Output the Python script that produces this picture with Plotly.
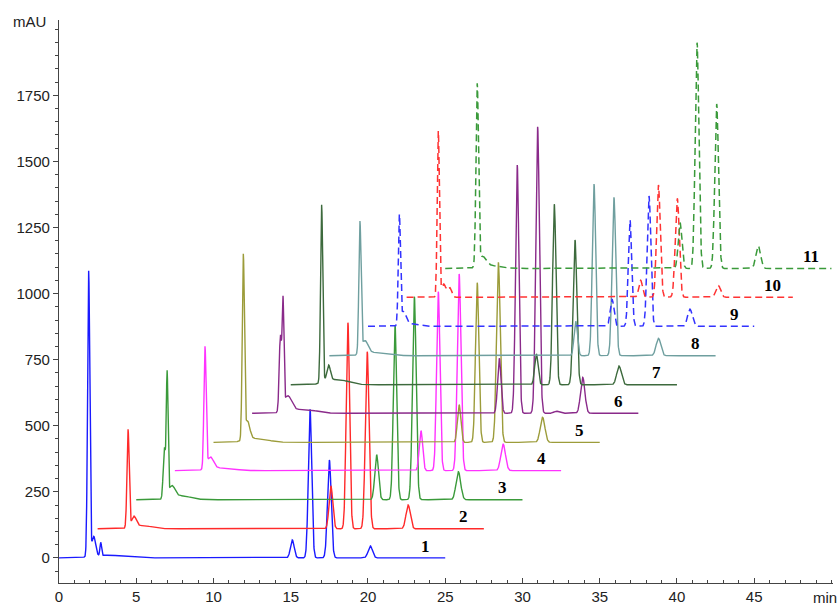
import numpy as np
import plotly.graph_objects as go

# ---------------- data ----------------
trace_names = ["1", "2", "3", "4", "5", "6", "7", "8", "9", "10", "11"]
trace_start = [0, 2.5, 5, 7.5, 10, 12.5, 15, 17.5, 20, 22.5, 25]   # min
trace_end = [25, 27.5, 30, 32.5, 35, 37.5, 40, 42.5, 45, 47.5, 50]  # min
baseline = [0, 110, 220, 330, 437, 547, 655, 765, 876, 986, 1095]   # mAU

# peak tables per trace: retention time (min), height above baseline (mAU), width sigma (min)
peak_rt = [
    [1.92, 2.25, 2.7, 3.2, 15.1, 16.25, 17.5, 20.15],
    [4.47, 4.85, 5.4, 17.6, 18.7, 19.95, 22.6],
    [6.82, 7.0, 7.3, 7.9, 20.56, 21.75, 23.0, 25.85],
    [9.45, 9.8, 10.5, 23.43, 24.55, 25.9, 28.75],
    [11.93, 12.2, 12.8, 25.9, 27.07, 28.44, 31.3],
    [14.33, 14.5, 14.8, 15.8, 28.5, 29.66, 30.98, 32.2, 33.9],
    [17.0, 17.45, 18.0, 30.9, 32.06, 33.4, 36.25],
    [19.48, 19.8, 20.5, 33.45, 34.63, 35.92, 38.8],
    [22.03, 22.3, 22.8, 35.8, 36.96, 38.19, 40.84],
    [24.55, 24.9, 25.3, 37.65, 38.8, 40.02, 42.67],
    [27.07, 27.4, 28.0, 40.2, 41.3, 42.57, 45.26],
]
peak_h = [
    [1080, 75, 50, 10, 68, 562, 370, 45],
    [371, 40, 12, 162, 780, 670, 90],
    [190, 460, 45, 15, 170, 661, 768, 106],
    [457, 45, 10, 151, 677, 744, 100],
    [693, 70, 15, 142, 604, 681, 95],
    [280, 390, 60, 15, 208, 939, 1084, 8, 136],
    [674, 60, 20, 116, 683, 548, 71],
    [491, 50, 12, 130, 649, 599, 66],
    [411, 50, 10, 102, 402, 493, 65],
    [626, 50, 35, 64, 425, 374, 45],
    [681, 40, 10, 173, 854, 622, 85],
]
peak_w = [
    [0.07, 0.12, 0.05, 1.0, 0.12, 0.11, 0.12, 0.14],
    [0.07, 0.15, 0.6, 0.12, 0.11, 0.12, 0.14],
    [0.075, 0.055, 0.2, 0.6, 0.12, 0.11, 0.12, 0.15],
    [0.07, 0.2, 0.8, 0.11, 0.11, 0.12, 0.15],
    [0.07, 0.15, 0.7, 0.11, 0.11, 0.12, 0.15],
    [0.075, 0.055, 0.25, 0.8, 0.11, 0.11, 0.12, 0.15, 0.14],
    [0.07, 0.12, 0.7, 0.11, 0.11, 0.12, 0.15],
    [0.07, 0.2, 0.7, 0.11, 0.11, 0.12, 0.15],
    [0.07, 0.15, 0.5, 0.12, 0.11, 0.12, 0.15],
    [0.07, 0.15, 0.12, 0.12, 0.12, 0.13, 0.15],
    [0.08, 0.25, 0.6, 0.12, 0.12, 0.12, 0.15],
]

x_ticks = [0, 5, 10, 15, 20, 25, 30, 35, 40, 45]
y_ticks = [0, 250, 500, 750, 1000, 1250, 1500, 1750]

# ---------------- styles ----------------
colors = ["#1a1aff", "#ff2a2a", "#3a9a3a", "#ff33ff", "#9c9c3a", "#8a2a8a",
          "#3d6a3d", "#6f9f9f", "#3333ff", "#ff3333", "#3a9a3a"]
dashes = ["solid"] * 8 + ["7px,4px"] * 3

fig = go.Figure()
for i in range(len(trace_names)):
    x = np.arange(trace_start[i], trace_end[i] + 1e-9, 0.01)
    y = np.full_like(x, float(baseline[i]))
    for rt, h, w in zip(peak_rt[i], peak_h[i], peak_w[i]):
        y = y + h * np.exp(-0.5 * ((x - rt) / w) ** 2)
    fig.add_trace(go.Scatter(x=x, y=y, mode="lines", name=trace_names[i],
                             line=dict(color=colors[i], width=1.4 if i < 8 else 1.5, dash=dashes[i]),
                             showlegend=False, hoverinfo="skip"))
    fig.add_annotation(x=trace_end[i] - 1.3, y=baseline[i] + 45, text="<b>%s</b>" % trace_names[i],
                       showarrow=False, xanchor="center", yanchor="middle",
                       font=dict(family="Liberation Serif, Times New Roman, serif", size=17, color="black"))

axis_font = dict(family="Arial, Liberation Sans, sans-serif", size=15, color="#222")
fig.add_annotation(x=(811 - 59) / 774, y=-0.025, xref="paper", yref="paper", text="min",
                   showarrow=False, xanchor="left", yanchor="middle", font=axis_font)
fig.add_annotation(x=-0.0375, y=0.998, xref="paper", yref="paper", text="mAU",
                   showarrow=False, xanchor="center", yanchor="middle", font=axis_font)

fig.update_layout(
    template="none",
    width=838, height=606,
    margin=dict(l=59, r=5, t=20, b=23, autoexpand=False),
    paper_bgcolor="white", plot_bgcolor="white",
    xaxis=dict(range=[0, 50.1], tickmode="array", tickvals=x_ticks,
               ticktext=[str(v) for v in x_ticks], automargin=False,
               showgrid=False, zeroline=False, showline=True, linecolor="#444", linewidth=1.3,
               ticks="inside", ticklen=5, tickcolor="#444", tickfont=axis_font,
               ticklabelstandoff=0,
               minor=dict(tick0=0, dtick=1, ticks="inside", ticklen=3, tickcolor="#444", showgrid=False)),
    yaxis=dict(range=[-95, 2035], tickmode="array", tickvals=y_ticks,
               ticktext=[str(v) for v in y_ticks], automargin=False,
               showgrid=False, zeroline=False, showline=True, linecolor="#444", linewidth=1.3,
               ticks="outside", ticklen=5, tickcolor="#444", tickfont=axis_font,
               minor=dict(tick0=0, dtick=50, ticks="outside", ticklen=3, tickcolor="#444", showgrid=False)),
)

fig.write_html("out.html", config={"displayModeBar": False},
               post_script="document.body.style.margin='0';document.body.style.overflow='hidden';")
